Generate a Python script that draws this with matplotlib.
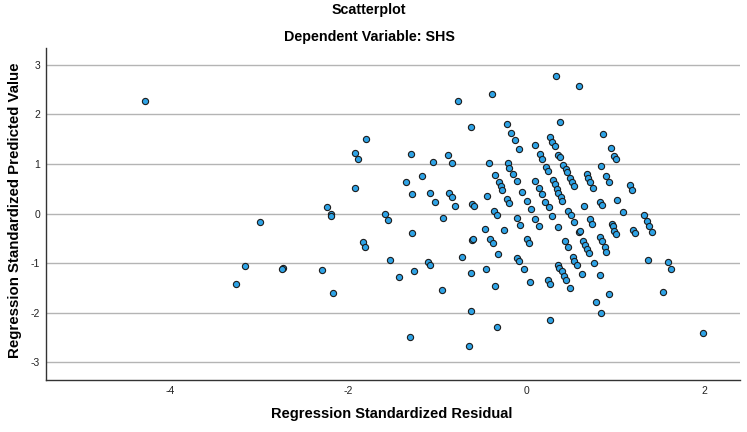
import matplotlib
matplotlib.use("Agg")
import matplotlib.pyplot as plt

plt.rcParams['font.family'] = ['Liberation Sans', 'DejaVu Sans']

title = "Scatterplot"
subtitle = "Dependent Variable: SHS"
x_label = "Regression Standardized Residual"
y_label = "Regression Standardized Predicted Value"

x_ticks = [-4, -2, 0, 2]
y_ticks = [-3, -2, -1, 0, 1, 2, 3]

residual = [
    -4.29, -1.80, -1.93, -1.89, -1.93, -2.24, -2.20, -2.19, -2.99, -1.84, -1.81,
    -3.16, -2.73, -2.74, -2.30, -3.26, -2.17,
    -0.77, -0.39, -0.62, -1.30, -0.88, -1.05, -0.84, -0.42, -1.35, -1.17, -0.35,
    -0.31, -1.28, -1.08, -1.03, -0.87, -0.84, -0.80, -0.61, -0.59, -0.44,
    -1.59, -1.55, -0.94, -0.36, -0.33, -1.28, -0.47, -0.61, -0.60, -0.41, -0.38,
    -0.32, -1.53, -1.11, -1.08, -0.72, -0.45, -0.62, -1.26, -1.43, -0.35, -0.95,
    -0.62, -0.33, -1.31, -0.64,
    0.33, 0.59, -0.22, -0.17, -0.13, -0.08, 0.38, 0.86, 0.10, 0.15, 0.18, 0.26,
    0.29, 0.32, 0.36, 0.38, 0.95, 0.98, 1.01, -0.21, -0.19, -0.15, -0.11, -0.29,
    -0.27, -0.05, -0.22, -0.20, 0.01, 0.05, 0.10, 0.14, 0.17, 0.21, 0.25, 0.22,
    0.24, 0.30, 0.32, 0.34, 0.36, 0.39, 0.40, 0.41, 0.44, 0.46, 0.49, 0.51, 0.53,
    0.68, 0.69, 0.72, 0.75, 0.65, 0.84, 0.89, 0.93, 0.83, 0.85, 1.02,
    1.16, 1.19,
    1.09, 1.20, 1.22, 1.32, 1.35, 1.38, 1.41, 1.37, 1.59, 1.62, 1.54, 1.98,
    -0.11, -0.07, -0.25, 0.10, 0.14, 0.29, 0.35, 0.47, 0.50, 0.53, 0.59, 0.60,
    0.43, 0.47, 0.72, 0.74, 0.64, 0.66, 0.68, 0.70, 0.96, 0.97, 0.99, 1.01, 0.83,
    0.85, 0.88, 0.90, 0.76, 0.83, 0.93, 0.78, 0.84, 0.01, 0.03, -0.10, -0.08,
    -0.03, 0.04, 0.24, 0.26, 0.26, 0.35, 0.37, 0.40, 0.42, 0.45, 0.49, 0.52, 0.54,
    0.57, 0.62,
]

predicted = [
    2.28, 1.51, 1.23, 1.11, 0.51, 0.14, -0.01, -0.06, -0.17, -0.57, -0.67,
    -1.06, -1.10, -1.11, -1.14, -1.43, -1.61,
    2.28, 2.41, 1.74, 1.21, 1.18, 1.04, 1.02, 1.02, 0.63, 0.75, 0.78,
    0.63, 0.39, 0.41, 0.23, 0.41, 0.33, 0.16, 0.20, 0.15, 0.35,
    0.00, -0.14, -0.09, 0.05, -0.04, -0.39, -0.31, -0.53, -0.52, -0.51, -0.60,
    -0.82, -0.94, -0.98, -1.04, -0.88, -1.12, -1.21, -1.16, -1.29, -1.46, -1.55,
    -1.97, -2.29, -2.49, -2.67,
    2.78, 2.58, 1.80, 1.62, 1.49, 1.30, 1.85, 1.60, 1.39, 1.21, 1.10, 1.54,
    1.44, 1.36, 1.19, 1.14, 1.32, 1.17, 1.11, 1.01, 0.91, 0.80, 0.66, 0.55,
    0.47, 0.44, 0.30, 0.22, 0.25, 0.09, 0.66, 0.51, 0.39, 0.23, 0.13, 0.94,
    0.85, 0.67, 0.59, 0.49, 0.41, 0.33, 0.25, 0.98, 0.90, 0.83, 0.72, 0.64, 0.55,
    0.80, 0.72, 0.63, 0.52, 0.16, 0.95, 0.76, 0.63, 0.24, 0.18, 0.28,
    0.57, 0.47,
    0.04, -0.33, -0.39, -0.04, -0.15, -0.26, -0.37, -0.93, -0.98, -1.11, -1.58, -2.41,
    -0.10, -0.23, -0.33, -0.12, -0.26, -0.05, -0.27, 0.05, -0.04, -0.17, -0.38, -0.36,
    -0.55, -0.67, -0.12, -0.21, -0.56, -0.63, -0.71, -0.79, -0.22, -0.25, -0.35, -0.41, -0.47,
    -0.56, -0.68, -0.78, -1.00, -1.25, -1.62, -1.78, -2.01, -0.51, -0.59, -0.89, -0.95,
    -1.12, -1.38, -1.34, -1.43, -2.15, -1.03, -1.10, -1.17, -1.26, -1.35, -1.50, -0.88, -0.96,
    -1.04, -1.22,
]

fig = plt.figure(figsize=(7.47, 4.32), dpi=100)
ax = fig.add_axes([45.7 / 747, 1 - 380 / 432, (740 - 45.7) / 747, (380 - 48) / 432])

ax.set_xlim(-5.40, 2.40)
ax.set_ylim(-3.36, 3.34)
ax.set_yticks(y_ticks)
ax.set_xticks(x_ticks)
ax.set_yticklabels([str(v) for v in y_ticks])
ax.set_xticklabels([str(v) for v in x_ticks])
ax.grid(axis='y', color='#b4b4b4', linewidth=1.0)
ax.set_axisbelow(True)
ax.tick_params(axis='both', length=0, labelsize=7.5, colors='#222222')
ax.tick_params(axis='x', pad=4)
ax.tick_params(axis='y', pad=4)
for s in ['top', 'right']:
    ax.spines[s].set_visible(False)
for s in ['left', 'bottom']:
    ax.spines[s].set_color('#333333')
    ax.spines[s].set_linewidth(1.0)

ax.scatter(residual, predicted, s=20, facecolor='#2ea3e6', edgecolor='#1c1c1c',
           linewidth=0.8, zorder=3)

fig.text(369 / 747, 1 - 10 / 432, title, ha='center', va='center',
         fontsize=10.3, fontweight='bold')
fig.text(369 / 747, 1 - 37 / 432, subtitle, ha='center', va='center',
         fontsize=10.3, fontweight='bold')
fig.text(392 / 747, 1 - 414 / 432, x_label, ha='center', va='center',
         fontsize=10.5, fontweight='bold')
fig.text(15 / 747, 1 - 210 / 432, y_label, ha='center', va='center',
         rotation=90, fontsize=10.8, fontweight='bold')

fig.savefig("out.png", dpi=100)
